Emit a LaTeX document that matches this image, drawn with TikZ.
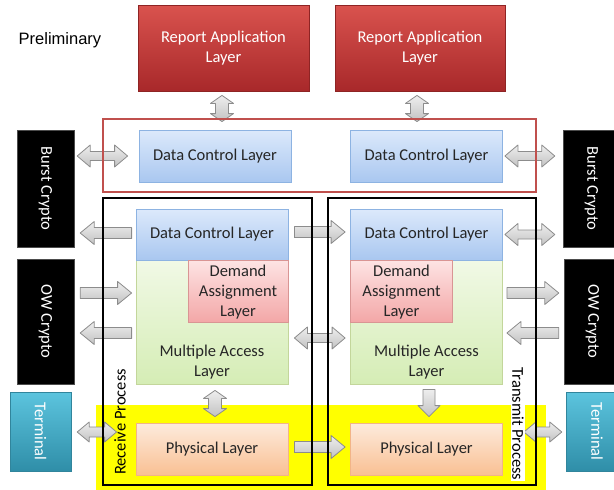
\documentclass[tikz,border=0pt]{standalone}
\usepackage{fontspec}
\setmainfont{Carlito}
\newfontfamily\prelimFont{Liberation Sans}
\usepackage{xcolor}
\definecolor{reportTop}{HTML}{D9534E}
\definecolor{reportBot}{HTML}{A8282A}
\definecolor{reportEdge}{HTML}{8E2424}
\definecolor{dclTop}{HTML}{DCE9FB}
\definecolor{dclBot}{HTML}{A9C7F0}
\definecolor{dclEdge}{HTML}{8DB3E2}
\definecolor{dalTop}{HTML}{FDE3E3}
\definecolor{dalBot}{HTML}{F3A6A6}
\definecolor{dalEdge}{HTML}{D99594}
\definecolor{malTop}{HTML}{F1F9E6}
\definecolor{malBot}{HTML}{D5EDB5}
\definecolor{malEdge}{HTML}{C3D69B}
\definecolor{phyTop}{HTML}{FDEBDD}
\definecolor{phyBot}{HTML}{F9C093}
\definecolor{phyEdge}{HTML}{F2B488}
\definecolor{termTop}{HTML}{5CC4DE}
\definecolor{termBot}{HTML}{2F8EA8}
\definecolor{termEdge}{HTML}{31859C}
\definecolor{arrowTop}{HTML}{EEEEEE}
\definecolor{arrowBot}{HTML}{C2C2C2}
\definecolor{arrowEdge}{HTML}{8C8C8C}
\definecolor{frameRed}{HTML}{C0504D}
\definecolor{bandYellow}{HTML}{FFFF00}
\definecolor{textDark}{HTML}{262626}
\usepackage{tikz}
\usetikzlibrary{shapes,arrows,positioning,calc}
\tikzset{%
  layerBox/.style={%
    rectangle,
    draw,
    line width=.8,
    inner sep=2pt,
    align=center,
    text=textDark
  },
  reportBox/.style={%
    layerBox,
    draw=reportEdge,
    top color=reportTop,
    bottom color=reportBot,
    text=white,
    minimum height=86
  },
  dclBox/.style={%
    layerBox,
    draw=dclEdge,
    top color=dclTop,
    bottom color=dclBot,
    minimum width=152,
    minimum height=52
  },
  dalBox/.style={%
    layerBox,
    draw=dalEdge,
    top color=dalTop,
    bottom color=dalBot,
    minimum height=62
  },
  malBox/.style={%
    layerBox,
    draw=malEdge,
    top color=malTop,
    bottom color=malBot,
    minimum width=152,
    minimum height=124
  },
  phyBox/.style={%
    layerBox,
    draw=phyEdge,
    top color=phyTop,
    bottom color=phyBot,
    minimum width=152,
    minimum height=52
  },
  vertText/.style={%
    rotate=-90,
    text=white,
    inner sep=0
  },
  cryptoBox/.style={%
    rectangle,
    draw=black!70,
    fill=black,
    minimum width=57,
    label={[vertText]center:#1}
  },
  termBox/.style={%
    rectangle,
    draw=termEdge,
    top color=termTop,
    bottom color=termBot,
    minimum height=79,
    label={[vertText]center:#1}
  },
  arrowFill/.style={%
    draw=arrowEdge,
    line width=.8,
    line join=round,
    top color=arrowTop,
    bottom color=arrowBot
  },
  procFrame/.style={%
    rectangle,
    draw=black,
    line width=2,
    minimum height=287
  },
  ctrlFrame/.style={%
    rectangle,
    draw=frameRed,
    line width=1.5,
    minimum width=433,
    minimum height=73
  },
  procLabel/.style={%
    inner sep=1pt,
    text=black
  }
}
% block arrows: {shaft half}{head half}{head length}{from}{to}
\newcommand{\oneHead}[5]{%
  \path[arrowFill] let \p1=#4, \p2=#5, \p3=($(\p2)!#3!(\p1)$) in
    ($(\p1)!#1!90:(\p2)$) -- ($(\p3)!#1!-90:(\p1)$) -- ($(\p3)!#2!-90:(\p1)$) -- (\p2)
    -- ($(\p3)!#2!90:(\p1)$) -- ($(\p3)!#1!90:(\p1)$) -- ($(\p1)!#1!-90:(\p2)$) -- cycle;}
\newcommand{\twoHead}[5]{%
  \path[arrowFill] let \p1=#4, \p2=#5, \p3=($(\p2)!#3!(\p1)$), \p4=($(\p1)!#3!(\p2)$) in
    (\p1) -- ($(\p4)!#2!90:(\p2)$) -- ($(\p4)!#1!90:(\p2)$) -- ($(\p3)!#1!-90:(\p1)$)
    -- ($(\p3)!#2!-90:(\p1)$) -- (\p2) -- ($(\p3)!#2!90:(\p1)$) -- ($(\p3)!#1!90:(\p1)$)
    -- ($(\p4)!#1!-90:(\p2)$) -- ($(\p4)!#2!-90:(\p2)$) -- cycle;}
\newcommand{\sArrow}[2]{\oneHead{5.5pt}{11.5pt}{14pt}{#1}{#2}}
\newcommand{\dArrow}[2]{\twoHead{4.5pt}{11pt}{13pt}{#1}{#2}}

\begin{document}
\begin{tikzpicture}[x=1pt, y=-1pt, font=\fontsize{16.5}{20}\selectfont]
\useasboundingbox (0,0) rectangle (614,490);
\clip (0,0) rectangle (614,490);

\node[font=\prelimFont\fontsize{16.5}{20}\selectfont] (prelim) at (60,40) {Preliminary};

\node[reportBox, minimum width=171] (repL) at (223.5,48) {Report Application\\Layer};
\node[reportBox, minimum width=170] (repR) at (420,48) {Report Application\\Layer};

\node[dclBox] (dclTopL) at (215,156) {Data Control Layer};
\node[dclBox] (dclTopR) at (426.5,156) {Data Control Layer};

\node[rectangle, fill=bandYellow, minimum width=450, minimum height=87] (band) at (321,448.5) {};

\node[malBox] (malL) at (212,322) {};
\node[malBox] (malR) at (426.5,322) {};
\node[dclBox, minimum height=51] (dclL) at (212,234.5) {Data Control Layer};
\node[dclBox, minimum height=51] (dclR) at (426.5,234.5) {Data Control Layer};
\node[dalBox, minimum width=100, below left=0pt and 0pt of dclL.south east] (dalL) {Demand\\Assignment\\Layer};
\node[dalBox, minimum width=102, below right=0pt and 0pt of dclR.south west] (dalR) {Demand\\Assignment\\Layer};
\node[inner sep=0, align=center, text=textDark, above=5pt of malL.south] (malTxtL) {Multiple Access\\Layer};
\node[inner sep=0, align=center, text=textDark, above=5pt of malR.south] (malTxtR) {Multiple Access\\Layer};

\node[phyBox] (phyL) at (212,449) {Physical Layer};
\node[phyBox] (phyR) at (426.5,449) {Physical Layer};

\node[cryptoBox=Burst Crypto, minimum height=117] (burstL) at (45.5,188.5) {};
\node[cryptoBox=Burst Crypto, minimum height=117] (burstR) at (591.5,188.5) {};
\node[cryptoBox=OW Crypto, minimum height=125] (owL) at (45.5,321.5) {};
\node[cryptoBox=OW Crypto, minimum height=125] (owR) at (592.5,321.5) {};
\node[termBox=Terminal, minimum width=61] (termL) at (40.5,431.5) {};
\node[termBox=Terminal, minimum width=62] (termR) at (597,431.5) {};

\twoHead{6.5pt}{11.5pt}{8pt}{($(repL.south)+(-1.5,4)$)}{($(dclTopL.north)+(7,-8)$)}
\twoHead{6.5pt}{11.5pt}{8pt}{($(repR.south)+(-3,4)$)}{($(dclTopR.north)+(-9.5,-8)$)}
\dArrow{($(burstL.east)+(3,-32.5)$)}{($(dclTopL.west)+(-11,0)$)}
\dArrow{($(dclTopR.east)+(2,0)$)}{($(burstR.west)+(-8,-32.5)$)}
\sArrow{($(dclL.west)+(-4,-1.5)$)}{($(burstL.east)+(6,44.5)$)}
\sArrow{($(dclL.east)+(6,-2.5)$)}{($(dclR.west)+(-5,-2.5)$)}
\dArrow{($(dclR.east)+(2,0)$)}{($(burstR.west)+(-8,46)$)}
\sArrow{($(owL.east)+(6,-28.5)$)}{($(malL.west)+(-4,-29)$)}
\sArrow{($(malL.west)+(-4,11)$)}{($(owL.east)+(6,11.5)$)}
\sArrow{($(malR.east)+(4,-29)$)}{($(owR.west)+(-5,-28.5)$)}
\sArrow{($(owR.west)+(-5,11.5)$)}{($(malR.east)+(4,11)$)}
\dArrow{($(malL.east)+(6,16)$)}{($(malR.west)+(-5,16)$)}
\twoHead{6.5pt}{11.5pt}{8pt}{($(malL.south)+(3,6)$)}{($(phyL.north)+(3,-6)$)}
\oneHead{6pt}{11pt}{11pt}{($(malR.south)+(2.5,5)$)}{($(phyR.north)+(2.5,-6)$)}
\twoHead{5pt}{10pt}{12pt}{($(termL.east)+(6,0.5)$)}{($(phyL.west)+(-19,-17)$)}
\sArrow{($(phyL.east)+(6,-2)$)}{($(phyR.west)+(-5,-2)$)}
\twoHead{5pt}{10pt}{12pt}{($(phyR.east)+(21,-17)$)}{($(termR.west)+(-4,0.5)$)}

\node[ctrlFrame] (ctrl) at (319.5,155.5) {};
\node[procFrame, minimum width=209] (rxFrame) at (207.5,341.5) {};
\node[procFrame, minimum width=208] (txFrame) at (432,341.5) {};

\node[procLabel, rotate=90] (rxLabel) at (120,422) {Receive Process};
\node[procLabel, rotate=-90, fill=white] (txLabel) at (518,424) {Transmit Process};

\end{tikzpicture}
\end{document}
